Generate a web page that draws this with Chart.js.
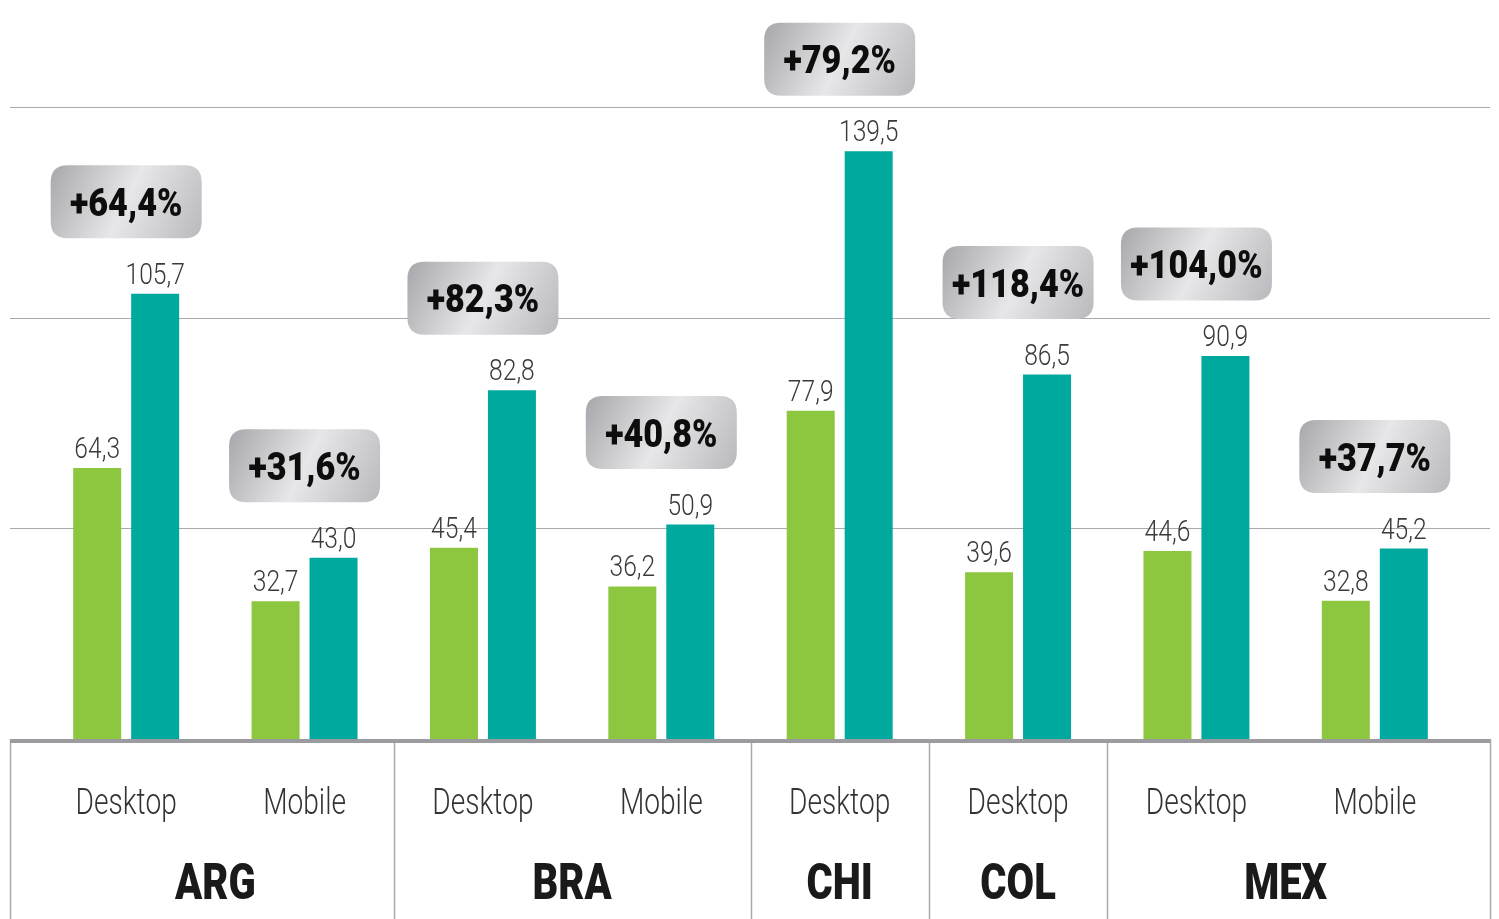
<!DOCTYPE html>
<html>
<head>
<meta charset="utf-8">
<script src="https://cdn.jsdelivr.net/npm/chart.js@4/dist/chart.umd.min.js"></script>
<style>
  html, body { margin: 0; padding: 0; background: #ffffff; }
  #wrap { width: 1499px; height: 919px; }
</style>
</head>
<body>
<div id="wrap"><canvas id="c" width="1499" height="919"></canvas></div>
<script>
// ---- data ----
const categories = ['Desktop', 'Mobile', 'Desktop', 'Mobile', 'Desktop', 'Desktop', 'Desktop', 'Mobile'];
const categoryGroup = ['ARG', 'ARG', 'BRA', 'BRA', 'CHI', 'COL', 'MEX', 'MEX'];
const groups = ['ARG', 'BRA', 'CHI', 'COL', 'MEX'];
const seriesPrev = [64.3, 32.7, 45.4, 36.2, 77.9, 39.6, 44.6, 32.8];
const seriesCurr = [105.7, 43.0, 82.8, 50.9, 139.5, 86.5, 90.9, 45.2];
const growthPct = [64.4, 31.6, 82.3, 40.8, 79.2, 118.4, 104.0, 37.7];
const gridValues = [50, 100, 150];

const GREEN = '#8dc63f';
const TEAL = '#00a99d';

function fmt(v) { return v.toFixed(1).replace('.', ','); }

function drawText(ctx, text, x, y, font, sx, color, align, baseline) {
  ctx.save();
  ctx.translate(x, y);
  ctx.scale(sx, 1);
  ctx.font = font;
  ctx.textAlign = align || 'center';
  ctx.textBaseline = baseline || 'alphabetic';
  ctx.fillStyle = color;
  ctx.fillText(text, 0, 0);
  ctx.restore();
}

function roundRect(ctx, x, y, w, h, r) {
  ctx.beginPath();
  ctx.moveTo(x + r, y);
  ctx.lineTo(x + w - r, y);
  ctx.quadraticCurveTo(x + w, y, x + w, y + r);
  ctx.lineTo(x + w, y + h - r);
  ctx.quadraticCurveTo(x + w, y + h, x + w - r, y + h);
  ctx.lineTo(x + r, y + h);
  ctx.quadraticCurveTo(x, y + h, x, y + h - r);
  ctx.lineTo(x, y + r);
  ctx.quadraticCurveTo(x, y, x + r, y);
  ctx.closePath();
}

const decor = {
  id: 'decor',
  beforeDatasetsDraw(chart) {
    const ctx = chart.ctx;
    const ca = chart.chartArea;
    const y = chart.scales.y;
    const xs = chart.scales.x;
    const L = ca.left - 27, R = ca.right + 26;
    ctx.save();
    // grid lines
    ctx.strokeStyle = '#a9a9ab';
    ctx.lineWidth = 1.2;
    gridValues.forEach(v => {
      const py = Math.round(y.getPixelForValue(v)) + 0.5;
      ctx.beginPath();
      ctx.moveTo(L, py);
      ctx.lineTo(R, py);
      ctx.stroke();
    });
    // group separator lines below axis
    const base = y.getPixelForValue(0);
    const half = (xs.getPixelForValue(1) - xs.getPixelForValue(0)) / 2;
    const seps = [L];
    for (let i = 1; i < categoryGroup.length; i++) {
      if (categoryGroup[i] !== categoryGroup[i - 1]) seps.push(xs.getPixelForValue(i) - half);
    }
    seps.push(R);
    ctx.strokeStyle = '#a9a9ab';
    ctx.lineWidth = 1.5;
    seps.forEach(sx => {
      ctx.beginPath();
      ctx.moveTo(Math.round(sx) + 0.5, base);
      ctx.lineTo(Math.round(sx) + 0.5, chart.height);
      ctx.stroke();
    });
    ctx.restore();
  },
  afterDatasetsDraw(chart) {
    const ctx = chart.ctx;
    const ca = chart.chartArea;
    const y = chart.scales.y;
    const xs = chart.scales.x;
    const L = ca.left - 27, R = ca.right + 26;
    const base = y.getPixelForValue(0);
    ctx.save();
    // thick axis line
    ctx.fillStyle = '#9c9ca0';
    ctx.fillRect(L, base, R - L, 4);

    const m0 = chart.getDatasetMeta(0).data;
    const m1 = chart.getDatasetMeta(1).data;
    // value labels
    m0.forEach((bar, i) => {
      drawText(ctx, fmt(seriesPrev[i]), bar.x, bar.y - 10, '300 30px Roboto', 0.82, '#3a3a3a');
    });
    m1.forEach((bar, i) => {
      drawText(ctx, fmt(seriesCurr[i]), bar.x, bar.y - 10, '300 30px Roboto', 0.82, '#3a3a3a');
    });
    // growth badges
    m1.forEach((bar, i) => {
      const cx = xs.getPixelForValue(i);
      const cy = Math.max(bar.y - 92, 47);
      const w = 151, h = 73;
      const bx = cx - w / 2, by = cy - h / 2;
      const g = ctx.createLinearGradient(bx, by, bx + w, by + h);
      g.addColorStop(0, '#a7a7ab');
      g.addColorStop(0.5, '#e7e7e9');
      g.addColorStop(1, '#b9b9bd');
      roundRect(ctx, bx, by, w, h, 17);
      ctx.fillStyle = g;
      ctx.fill();
      drawText(ctx, '+' + fmt(growthPct[i]) + '%', cx, cy + 14, '900 38px Roboto', 0.9, '#0d0d0d');
    });
    // category labels
    categories.forEach((c, i) => {
      drawText(ctx, c, xs.getPixelForValue(i), 814, '300 37px Roboto', 0.76, '#333333');
    });
    // group labels
    groups.forEach(gname => {
      const idx = categoryGroup.map((g, i) => g === gname ? i : -1).filter(i => i >= 0);
      const cx = (xs.getPixelForValue(idx[0]) + xs.getPixelForValue(idx[idx.length - 1])) / 2;
      drawText(ctx, gname, cx, 899, '900 50px Roboto', 0.8, '#1a1a1a');
    });
    ctx.restore();
  }
};

new Chart(document.getElementById('c'), {
  type: 'bar',
  data: {
    labels: categories,
    datasets: [
      { data: seriesPrev, backgroundColor: GREEN, barPercentage: 0.828, categoryPercentage: 0.65 },
      { data: seriesCurr, backgroundColor: TEAL, barPercentage: 0.828, categoryPercentage: 0.65 }
    ]
  },
  options: {
    responsive: false,
    animation: false,
    layout: { padding: { left: 37, right: 35, top: 107, bottom: 180 } },
    plugins: { legend: { display: false }, tooltip: { enabled: false } },
    scales: {
      x: { display: false },
      y: { display: false, min: 0, max: 150 }
    }
  },
  plugins: [decor]
});
</script>
</body>
</html>
